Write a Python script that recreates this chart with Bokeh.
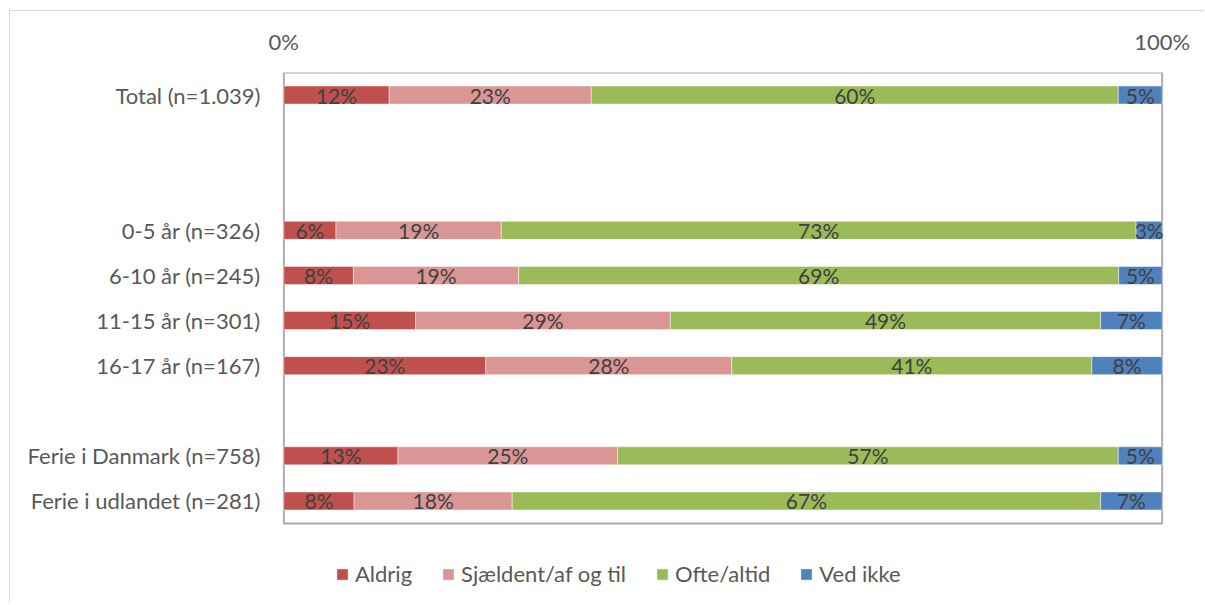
from bokeh.plotting import figure
from bokeh.models import ColumnDataSource, Range1d, FixedTicker, Legend, LegendItem
from bokeh.core.properties import value
from bokeh.embed import file_html
from bokeh.resources import INLINE

# ---- data ----
categories = ["Total (n=1.039)", "", "", "0-5 år (n=326)", "6-10 år (n=245)",
              "11-15 år (n=301)", "16-17 år (n=167)", "",
              "Ferie i Danmark (n=758)", "Ferie i udlandet (n=281)"]
rows = ["Total (n=1.039)", "0-5 år (n=326)", "6-10 år (n=245)", "11-15 år (n=301)",
        "16-17 år (n=167)", "Ferie i Danmark (n=758)", "Ferie i udlandet (n=281)"]
series_names = ["Aldrig", "Sjældent/af og til", "Ofte/altid", "Ved ikke"]
aldrig = [12, 6, 8, 15, 23, 13, 8]
sjaeldent = [23, 19, 19, 29, 28, 25, 18]
ofte = [60, 73, 69, 49, 41, 57, 67]
ved_ikke = [5, 3, 5, 7, 8, 5, 7]
tick_labels = {0: "0%", 1: "100%"}
colors = ["#C0504D", "#DA9694", "#9BBB59", "#4F81BD"]

FONT = "Lato"
series = [aldrig, sjaeldent, ofte, ved_ikke]
totals = [sum(v) for v in zip(*series)]
row_pos = [categories.index(r) for r in rows]
n_cat = len(categories)

p = figure(width=1195, height=593, output_backend="svg", toolbar_location=None,
           y_range=Range1d(n_cat - 0.5 + 1.663, -0.5),
           x_range=Range1d(-0.0015, 1.0015), x_axis_location="above",
           min_border_left=272, min_border_right=42, min_border_top=61, min_border_bottom=6)
p.styles = {"border-left": "1px solid #D9D9D9", "border-top": "1px solid #D9D9D9",
            "margin-left": "9px", "margin-top": "10px"}

p.grid.visible = False
p.outline_line_color = None

# plot-area border
p.quad(left=0, right=1, top=-0.5, bottom=n_cat - 0.5, fill_color=None,
       line_color="#ABABAB", line_width=2)

legend_items = []
left = [0.0] * len(rows)
for name, vals, col in zip(series_names, series, colors):
    frac = [v / t for v, t in zip(vals, totals)]
    right = [l + f for l, f in zip(left, frac)]
    src = ColumnDataSource(dict(y=row_pos, left=left, right=right,
                                xc=[(l + r) / 2 for l, r in zip(left, right)],
                                lab=[f"{v}%" for v in vals]))
    r = p.hbar(y="y", left="left", right="right", height=0.4, source=src,
               fill_color=col, line_color="white", line_alpha=0.45, line_width=1)
    p.text(x="xc", y="y", text="lab", source=src, text_align="center",
           text_baseline="middle", y_offset=0, text_color="#404040",
           text_font=value(FONT), text_font_size="21px")
    legend_items.append(LegendItem(label=name, renderers=[r]))
    left = right

xa = p.xaxis[0]
xa.ticker = FixedTicker(ticks=[0, 1])
xa.major_label_overrides = tick_labels
xa.axis_line_color = None
xa.major_tick_line_color = None
xa.minor_tick_line_color = None
xa.major_tick_out = 0
xa.major_tick_in = 0
xa.major_label_standoff = 18
xa.major_label_text_font = FONT
xa.major_label_text_font_size = "22px"
xa.major_label_text_color = "#595959"

ya = p.yaxis[0]
ya.ticker = FixedTicker(ticks=row_pos)
ya.major_label_overrides = {i: c for i, c in zip(row_pos, rows)}
ya.axis_line_color = None
ya.major_tick_line_color = None
ya.minor_tick_line_color = None
ya.major_tick_out = 0
ya.major_tick_in = 0
ya.major_label_standoff = 22
ya.major_label_text_font = FONT
ya.major_label_text_font_size = "22px"
ya.major_label_text_color = "#595959"

legend = Legend(items=legend_items, orientation="horizontal", location=(53, 11),
                glyph_width=14, glyph_height=14, label_standoff=6, spacing=29,
                padding=0, margin=0, border_line_color=None, background_fill_alpha=0,
                label_text_font=FONT, label_text_font_size="22px",
                label_text_color="#595959", label_height=22)
p.add_layout(legend, "center")

open("out.html", "w").write(file_html(p, INLINE))
